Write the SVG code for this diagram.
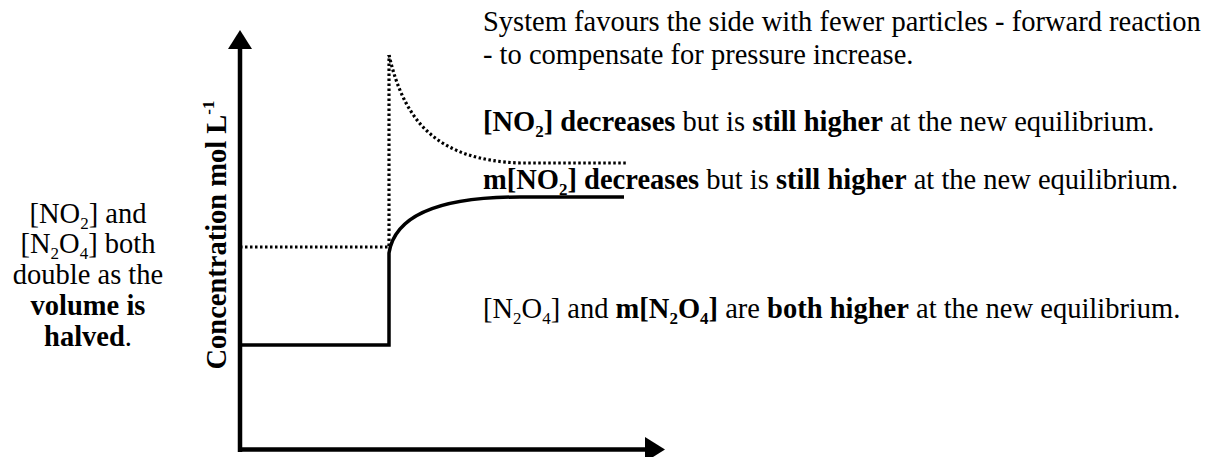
<svg xmlns="http://www.w3.org/2000/svg" width="1208" height="457" viewBox="0 0 1208 457">
<style>
text{font-family:"Liberation Serif","Times New Roman",serif;font-size:28.5px;fill:#000}
.b{font-weight:bold}
.sub{font-size:17px}
.axis{stroke:#000;stroke-width:4.5;fill:none}
.solid{stroke:#000;stroke-width:3.5;fill:none}
.dot{stroke:#000;stroke-width:3.2;fill:none;stroke-dasharray:2.5 2.5}
</style>
<rect width="1208" height="457" fill="#fff"/>
<g id="axes">
<line class="axis" x1="240" y1="452" x2="240" y2="46"/>
<polygon points="240,30 228,49 252,49" fill="#000"/>
<line class="axis" x1="238" y1="449.5" x2="648" y2="449.5"/>
<polygon points="645,437 645,462 665,449.5" fill="#000"/>
</g>
<g id="y-label">
<text class="b" transform="translate(226,235) rotate(-90)" text-anchor="middle">Concentration mol L<tspan class="sub" dy="-12">-1</tspan></text>
</g>
<g id="connectors">
<path class="solid" d="M240,345 H389 V253 C395,215 440,197 520,197 L624,197"/>
<path class="dot" d="M240,247 H389 V55"/>
<path class="dot" d="M389,55 C405,125 440,160 520,163 L627,163"/>
</g>
<g id="left-note">
<text text-anchor="middle" x="88" y="223">[NO<tspan class="sub" dy="6">2</tspan><tspan dy="-6">] and</tspan></text>
<text text-anchor="middle" x="88" y="253">[N<tspan class="sub" dy="6">2</tspan><tspan dy="-6">O</tspan><tspan class="sub" dy="6">4</tspan><tspan dy="-6">] both</tspan></text>
<text text-anchor="middle" x="88" y="284">double as the</text>
<text text-anchor="middle" x="88" y="315" class="b">volume is</text>
<text text-anchor="middle" x="88" y="346"><tspan class="b">halved</tspan>.</text>
</g>
<g id="right-notes">
<text x="483" y="31">System favours the side with fewer particles - forward reaction</text>
<text x="483" y="64">- to compensate for pressure increase.</text>
<text x="483" y="131"><tspan class="b">[NO<tspan class="sub" dy="6">2</tspan><tspan dy="-6">] decreases</tspan></tspan> but is <tspan class="b">still higher</tspan> at the new equilibrium.</text>
<text x="483" y="189"><tspan class="b">m[NO<tspan class="sub" dy="6">2</tspan><tspan dy="-6">] decreases</tspan></tspan> but is <tspan class="b">still higher</tspan> at the new equilibrium.</text>
<text x="483" y="318">[N<tspan class="sub" dy="6">2</tspan><tspan dy="-6">O</tspan><tspan class="sub" dy="6">4</tspan><tspan dy="-6">] and </tspan><tspan class="b">m[N<tspan class="sub" dy="6">2</tspan><tspan dy="-6">O</tspan><tspan class="sub" dy="6">4</tspan><tspan dy="-6">]</tspan></tspan> are <tspan class="b">both higher</tspan> at the new equilibrium.</text>
</g>
</svg>
